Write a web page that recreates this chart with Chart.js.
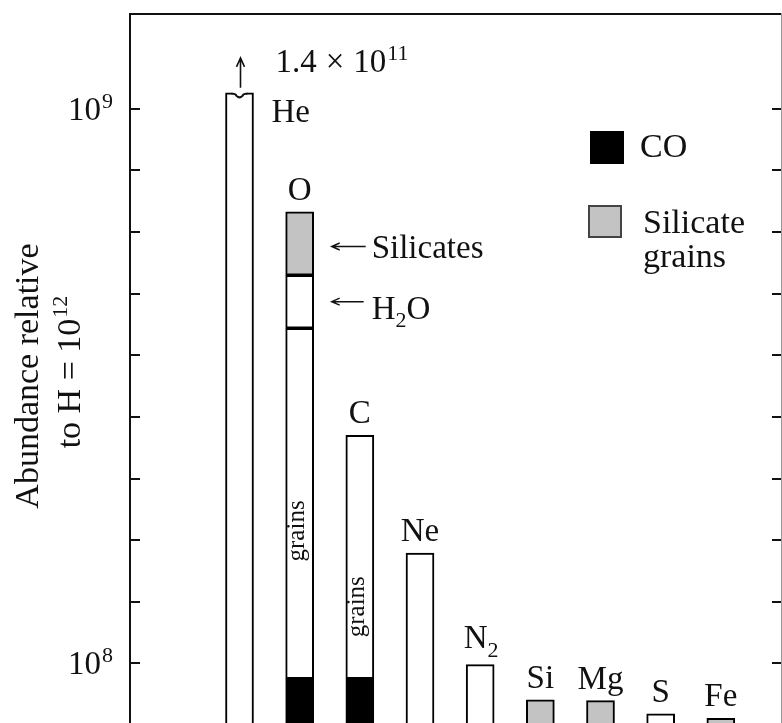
<!DOCTYPE html>
<html>
<head>
<meta charset="utf-8">
<script src="https://cdn.jsdelivr.net/npm/chart.js@4.4.0/dist/chart.umd.min.js"></script>
<style>
html,body{margin:0;padding:0;background:#fff;overflow:hidden}
</style>
</head>
<body>
<canvas id="myChart" width="782" height="725"></canvas>
<script>
var elements = ['He', 'O', 'C', 'Ne', 'N2', 'Si', 'Mg', 'S', 'Fe'];
// abundances relative to H = 1e12, split by where the atoms are
var inCO       = [null, 7.5e7, 7.5e7, null, null, null, null, null, null];
var inGrains   = [1.4e11, 5.69e8, 3.95e8, 2.79e8, 9.8e7, null, null, 1.8e7, null];
var inWater    = [null, 8.6e7, null, null, null, null, null, null, null];
var inSilicate = [null, 1.03e8, null, null, null, 4.1e7, 3.95e7, null, 1.1e7];
var grainsLabelAt = [null, 3.15e8, 1.92e8, null, null, null, null, null, null];
var heBreak = 1.026e9;   // He goes way off scale, bar is cut here
var yTicks = [1e8, 2e8, 3e8, 4e8, 5e8, 6e8, 7e8, 8e8, 9e8, 1e9];
var yTickLabels = {1e8: '8', 1e9: '9'};

var grey = '#c3c3c3';
var serif = "'Liberation Serif', 'Times New Roman', serif";

function font(size){ return size + 'px ' + serif; }

// parts: [text, size, dy, gapBefore]
function richText(ctx, parts, x, y, align){
    var w = 0;
    parts.forEach(function(p){
        ctx.font = font(p[1]);
        w += ctx.measureText(p[0]).width + (p[3] || 0);
    });
    var start = x;
    if(align == 'center') start = x - w / 2;
    if(align == 'right') start = x - w;
    ctx.textAlign = 'left';
    ctx.textBaseline = 'alphabetic';
    parts.forEach(function(p){
        ctx.font = font(p[1]);
        start += (p[3] || 0);
        ctx.fillText(p[0], start, y + (p[2] || 0));
        start += ctx.measureText(p[0]).width;
    });
}

function total(i){
    return (inCO[i] || 0) + Math.min(inGrains[i] || 0, heBreak) + (inWater[i] || 0) + (inSilicate[i] || 0);
}

function leftArrow(ctx, x1, x2, y){
    ctx.beginPath();
    ctx.moveTo(x2, y); ctx.lineTo(x1, y);
    ctx.moveTo(x1 + 8, y - 3.5); ctx.lineTo(x1, y); ctx.lineTo(x1 + 8, y + 3.5);
    ctx.stroke();
}

function makeSet(label, values, color){
    var pts = [];
    values.forEach(function(v, i){
        if(v != null) pts.push({x: i, y: Math.min(v, heBreak)});
    });
    return {
        label: label,
        data: pts,
        backgroundColor: color,
        borderColor: '#000',
        borderWidth: 2,
        borderSkipped: false,
        barThickness: 28
    };
}

var decorations = {
    id: 'decorations',
    afterDraw: function(chart){
        var ctx = chart.ctx;
        var a = chart.chartArea;
        var xs = chart.scales.x, ys = chart.scales.y;
        ctx.save();
        ctx.fillStyle = '#111';
        ctx.strokeStyle = '#111';

        // frame
        ctx.lineWidth = 2;
        ctx.beginPath();
        ctx.moveTo(a.left, a.bottom + 2); ctx.lineTo(a.left, a.top); ctx.lineTo(a.right, a.top);
        ctx.stroke();
        ctx.fillStyle = '#999';
        ctx.fillRect(a.right, a.top - 1, 1, a.bottom - a.top + 1);
        ctx.fillStyle = '#111';

        // inward ticks on both sides
        ctx.lineWidth = 2;
        yTicks.forEach(function(v){
            var y = Math.round(ys.getPixelForValue(v));
            ctx.beginPath();
            ctx.moveTo(a.left, y); ctx.lineTo(a.left + 10, y);
            ctx.moveTo(a.right, y); ctx.lineTo(a.right - 9, y);
            ctx.stroke();
            if(yTickLabels[v]){
                richText(ctx, [['10', 33], [yTickLabels[v], 22, -12, 1]], 113, y + 11, 'right');
            }
        });

        // axis title
        ctx.save();
        ctx.translate(38, 376);
        ctx.rotate(-Math.PI / 2);
        richText(ctx, [['Abundance relative', 34]], 0, 0, 'center');
        ctx.restore();
        ctx.save();
        ctx.translate(80, 372);
        ctx.rotate(-Math.PI / 2);
        richText(ctx, [['to H = 10', 34], ['12', 22, -13, 1]], 0, 0, 'center');
        ctx.restore();

        // element names over the bars
        elements.forEach(function(e, i){
            var xc = xs.getPixelForValue(i);
            var top = ys.getPixelForValue(total(i));
            if(i == 0){
                richText(ctx, [['He', 33]], xc + 32, top + 29, 'left');
            }else if(e == 'N2'){
                richText(ctx, [['N', 33], ['2', 22, 9]], xc + 1, top - 17, 'center');
            }else{
                richText(ctx, [[e, 33]], xc, top - 12, 'center');
            }
        });

        // broken He bar: notch on top and an arrow
        var hx = xs.getPixelForValue(0);
        var ht = ys.getPixelForValue(Math.min(inGrains[0], heBreak));
        ctx.fillStyle = '#fff';
        ctx.fillRect(hx - 7, ht - 1, 14, 4);
        ctx.fillStyle = '#111';
        ctx.lineWidth = 2;
        ctx.beginPath();
        ctx.moveTo(hx - 8, ht + 1);
        ctx.quadraticCurveTo(hx - 4, ht + 0.5, hx - 3, ht + 3);
        ctx.quadraticCurveTo(hx, ht + 6, hx + 3, ht + 3);
        ctx.quadraticCurveTo(hx + 4, ht + 0.5, hx + 8, ht + 1);
        ctx.stroke();
        ctx.lineWidth = 1.6;
        ctx.beginPath();
        ctx.moveTo(hx + 1, ht - 5); ctx.lineTo(hx + 1, ht - 35);
        ctx.moveTo(hx - 3, ht - 26); ctx.lineTo(hx + 1, ht - 35); ctx.lineTo(hx + 5, ht - 26);
        ctx.stroke();
        richText(ctx, [['1.4', 33], ['×', 33, 0, 9], ['10', 33, 0, 9], ['11', 22, -12, 1]], hx + 36, ht - 21, 'left');

        // O bar: arrows to the ice and silicate parts
        var ox = xs.getPixelForValue(1);
        var base = inCO[1] + inGrains[1];
        var yW = ys.getPixelForValue(base + inWater[1] / 2);
        var yS = ys.getPixelForValue(base + inWater[1] + inSilicate[1] / 2) + 3;
        ctx.lineWidth = 1.4;
        leftArrow(ctx, ox + 32, ox + 66, yS);
        leftArrow(ctx, ox + 32, ox + 64, yW);
        richText(ctx, [['Silicates', 33]], ox + 72, yS + 11, 'left');
        richText(ctx, [['H', 33], ['2', 22, 8], ['O', 33]], ox + 72, yW + 17, 'left');

        // rotated "grains" inside O and C
        grainsLabelAt.forEach(function(v, i){
            if(v == null) return;
            ctx.save();
            ctx.translate(xs.getPixelForValue(i) + 4, ys.getPixelForValue(v));
            ctx.rotate(-Math.PI / 2);
            richText(ctx, [['grains', 25]], 0, 0, 'center');
            ctx.restore();
        });

        // legend
        ctx.fillStyle = '#000';
        ctx.fillRect(590, 131, 34, 33);
        ctx.fillStyle = grey;
        ctx.fillRect(589, 206, 32, 31);
        ctx.strokeStyle = '#444';
        ctx.lineWidth = 2;
        ctx.strokeRect(589, 206, 32, 31);
        ctx.fillStyle = '#111';
        richText(ctx, [['CO', 34]], 640, 157, 'left');
        richText(ctx, [['Silicate', 34]], 643, 233, 'left');
        richText(ctx, [['grains', 34]], 643, 267, 'left');

        ctx.restore();
    }
};

var ctx = document.getElementById('myChart').getContext('2d');
var chart = new Chart(ctx, {
    type: 'bar',
    data: {
        datasets: [
            makeSet('CO', inCO, '#000'),
            makeSet('grains', inGrains, '#fff'),
            makeSet('H2O', inWater, '#fff'),
            makeSet('Silicates', inSilicate, grey)
        ]
    },
    options: {
        responsive: false,
        animation: false,
        layout: { padding: { left: 130, top: 14, right: 1, bottom: 0 } },
        plugins: { legend: { display: false }, tooltip: { enabled: false } },
        scales: {
            x: { type: 'linear', min: -1.82, max: 9, offset: false, stacked: true, display: false },
            y: { type: 'linear', min: 0, max: 1.154e9, stacked: true, display: false }
        }
    },
    plugins: [decorations]
});
</script>
</body>
</html>
